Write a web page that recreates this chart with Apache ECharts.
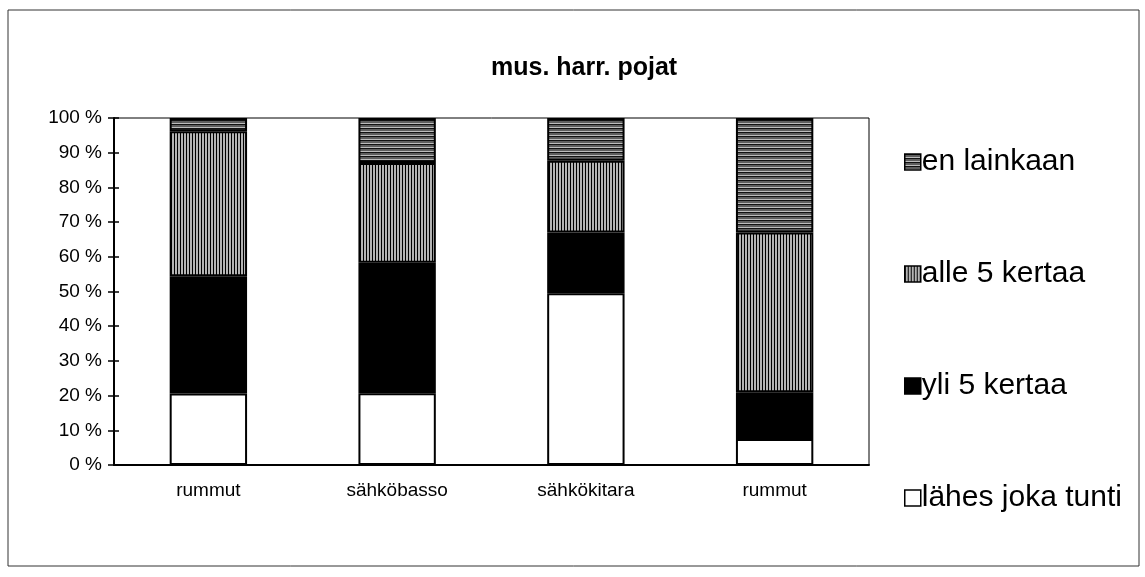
<!DOCTYPE html>
<html>
<head>
<meta charset="utf-8">
<script src="https://cdn.jsdelivr.net/npm/echarts@6/dist/echarts.min.js"></script>
<style>
  html, body { margin: 0; padding: 0; background: #fff; }
  #main { width: 1145px; height: 577px; }
</style>
</head>
<body>
<div id="main"></div>
<script>
// mus. harr. pojat -- osuudet prosentteina
var categories = ["rummut", "sähköbasso", "sähkökitara", "rummut"];
var seriesNames = ["lähes joka tunti", "yli 5 kertaa", "alle 5 kertaa", "en lainkaan"];
var lahesJokaTunti = [20.6, 20.7, 49.5, 7.5];
var yli5Kertaa = [33.8, 37.6, 17.5, 13.5];
var alle5Kertaa = [41.8, 28.7, 20.7, 46.0];
var enLainkaan = [3.8, 13.0, 12.3, 33.0];
var yTicks = [0, 10, 20, 30, 40, 50, 60, 70, 80, 90, 100];

//raidoitus canvasilla
function makePattern(rows, vertical) {
  var n = rows.length;
  var c = document.createElement("canvas");
  c.width = n;
  c.height = n;
  var ctx = c.getContext("2d");
  for (var i = 0; i < n; i++) {
    ctx.fillStyle = rows[i];
    if (vertical) {
      ctx.fillRect(i, 0, 1, n);
    } else {
      ctx.fillRect(0, i, n, 1);
    }
  }
  return { image: c, repeat: "repeat" };
}

var vertStripes = makePattern(["#000", "#b4b4b4", "#b4b4b4"], true);
var horizStripes = makePattern(["#111", "#5e5e5e", "#5e5e5e", "#bcbcbc"], false);

function barSeries(name, data, color) {
  return {
    name: name,
    type: "bar",
    stack: "all",
    barWidth: "41%",
    data: data,
    itemStyle: { color: color, borderColor: "#000", borderWidth: 2 },
    emphasis: { disabled: true }
  };
}

var myChart = echarts.init(document.getElementById("main"));
var font = "Liberation Sans, Arial, sans-serif";

var option = {
  animation: false,
  backgroundColor: "#fff",
  title: {
    text: "mus. harr. pojat",
    left: 486,
    top: 51,
    textStyle: { fontFamily: font, fontSize: 25, fontWeight: "bold", color: "#000" }
  },
  legend: {
    orient: "vertical",
    left: 899,
    top: 142,
    itemGap: 82,
    itemWidth: 16,
    itemHeight: 16,
    icon: "rect",
    data: [seriesNames[3], seriesNames[2], seriesNames[1], seriesNames[0]],
    itemStyle: { borderColor: "#000", borderWidth: 1.5 },
    textStyle: { fontFamily: font, fontSize: 30, color: "#000", padding: [0, 0, 0, -4] }
  },
  grid: {
    left: 114, right: 276, top: 118, bottom: 112,
    show: true, borderColor: "#000", borderWidth: 1
  },
  xAxis: {
    type: "category",
    data: categories,
    axisLine: { lineStyle: { color: "#000", width: 2 } },
    axisTick: { lineStyle: { color: "#000", width: 1.5 }, length: 6 },
    axisLabel: { fontFamily: font, fontSize: 19, color: "#000", margin: 16 }
  },
  yAxis: [{
    type: "value",
    min: yTicks[0],
    max: yTicks[yTicks.length - 1],
    interval: 10,
    splitLine: { show: false },
    axisLine: { show: true, lineStyle: { color: "#000", width: 2 } },
    axisTick: { show: true, length: 6, lineStyle: { color: "#000", width: 1.5 } },
    axisLabel: { fontFamily: font, fontSize: 19, color: "#000", margin: 12, formatter: "{value} %" }
  }, {
    //sisäänpäin tulevat tikit
    type: "value",
    position: "left",
    min: yTicks[0],
    max: yTicks[yTicks.length - 1],
    interval: 10,
    splitLine: { show: false },
    axisLine: { show: false },
    axisTick: { show: true, inside: true, length: 5, lineStyle: { color: "#000", width: 1.5 } },
    axisLabel: { show: false }
  }],
  series: [
    barSeries(seriesNames[0], lahesJokaTunti, "#fff"),
    barSeries(seriesNames[1], yli5Kertaa, "#000"),
    barSeries(seriesNames[2], alle5Kertaa, vertStripes),
    barSeries(seriesNames[3], enLainkaan, horizStripes)
  ],
  graphic: [{
    type: "rect",
    shape: { x: 8, y: 10, width: 1131, height: 556 },
    style: { fill: null, stroke: "#333", lineWidth: 1 },
    silent: true
  }]
};
myChart.setOption(option);
</script>
</body>
</html>
